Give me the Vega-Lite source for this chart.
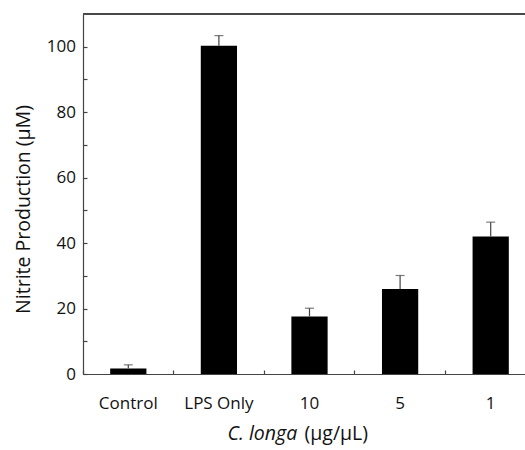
{
  "$schema": "https://vega.github.io/schema/vega-lite/v6.json",
  "width": 442,
  "height": 360,
  "autosize": {"type": "none"},
  "padding": {"left": 83, "top": 14, "right": 0, "bottom": 76},
  "config": {
    "view": {"stroke": null},
    "font": "Open Sans",
    "axis": {
      "domainColor": "#444",
      "domainWidth": 1.2,
      "tickColor": "#444",
      "tickWidth": 1.2,
      "grid": false,
      "labelColor": "#111",
      "titleColor": "#111",
      "labelFontSize": 17,
      "titleFontSize": 19.5,
      "titleFontWeight": "normal"
    }
  },
  "data": {
    "values": [
      {"group": "Control", "value": 1.7, "upper": 2.8},
      {"group": "LPS Only", "value": 100.3, "upper": 103.4},
      {"group": "10", "value": 17.6, "upper": 20.1},
      {"group": "5", "value": 26.0, "upper": 30.1},
      {"group": "1", "value": 42.0, "upper": 46.4}
    ]
  },
  "layer": [
    {
      "mark": {"type": "bar", "color": "#000"},
      "encoding": {
        "x": {
          "field": "group",
          "type": "nominal",
          "sort": null,
          "scale": {"range": [0, 453], "paddingInner": 0.6, "paddingOuter": 0.3},
          "axis": {
            "orient": "bottom",
            "labelAngle": 0,
            "ticks": true,
            "bandPosition": -0.75,
            "tickSize": -4,
            "labelPadding": 25,
            "title": "C. longa",
            "titleFontStyle": "italic",
            "titleX": 144,
            "titleY": 65,
            "titleAlign": "left",
            "titleBaseline": "alphabetic"
          }
        },
        "y": {
          "field": "value",
          "type": "quantitative",
          "title": "Nitrite Production (μM)",
          "scale": {"domain": [0, 110], "nice": false},
          "axis": {
            "values": [0, 10, 20, 30, 40, 50, 60, 70, 80, 90, 100],
            "labelExpr": "datum.value % 20 === 0 ? datum.label : ''",
            "ticks": true,
            "tickSize": -4,
            "labelPadding": 11.5,
            "titleX": -60,
            "titleY": 195,
            "titleAngle": -90,
            "titleAlign": "center",
            "titleBaseline": "middle"
          }
        }
      }
    },
    {
      "mark": {"type": "rule", "color": "#444", "strokeWidth": 1.2},
      "encoding": {
        "x": {
          "field": "group",
          "type": "nominal",
          "sort": null,
          "axis": {
            "orient": "bottom",
            "domain": false,
            "ticks": false,
            "labels": false,
            "title": "(μg/μL)",
            "titleX": 221,
            "titleY": 65,
            "titleAlign": "left",
            "titleBaseline": "alphabetic"
          }
        },
        "y": {
          "field": "value",
          "type": "quantitative",
          "title": "Nitrite Production (μM)",
          "axis": {
            "values": [0, 10, 20, 30, 40, 50, 60, 70, 80, 90, 100],
            "labelExpr": "datum.value % 20 === 0 ? datum.label : ''",
            "ticks": true,
            "tickSize": -4,
            "labelPadding": 11.5,
            "titleX": -60,
            "titleY": 195,
            "titleAngle": -90,
            "titleAlign": "center",
            "titleBaseline": "middle"
          }
        },
        "y2": {"field": "upper"}
      }
    },
    {
      "mark": {"type": "tick", "color": "#444", "size": 9, "thickness": 1.2, "orient": "horizontal"},
      "encoding": {
        "x": {"field": "group", "type": "nominal", "sort": null, "axis": null},
        "y": {
          "field": "upper",
          "type": "quantitative",
          "title": "Nitrite Production (μM)",
          "axis": {
            "values": [0, 10, 20, 30, 40, 50, 60, 70, 80, 90, 100],
            "labelExpr": "datum.value % 20 === 0 ? datum.label : ''",
            "ticks": true,
            "tickSize": -4,
            "labelPadding": 11.5,
            "titleX": -60,
            "titleY": 195,
            "titleAngle": -90,
            "titleAlign": "center",
            "titleBaseline": "middle"
          }
        }
      }
    },
    {
      "mark": {"type": "rule", "color": "#444", "strokeWidth": 1.2},
      "encoding": {
        "y": {
          "datum": 110,
          "title": "Nitrite Production (μM)",
          "axis": {
            "values": [0, 10, 20, 30, 40, 50, 60, 70, 80, 90, 100],
            "labelExpr": "datum.value % 20 === 0 ? datum.label : ''",
            "ticks": true,
            "tickSize": -4,
            "labelPadding": 11.5,
            "titleX": -60,
            "titleY": 195,
            "titleAngle": -90,
            "titleAlign": "center",
            "titleBaseline": "middle"
          }
        }
      }
    }
  ],
  "resolve": {"axis": {"x": "independent"}}
}
